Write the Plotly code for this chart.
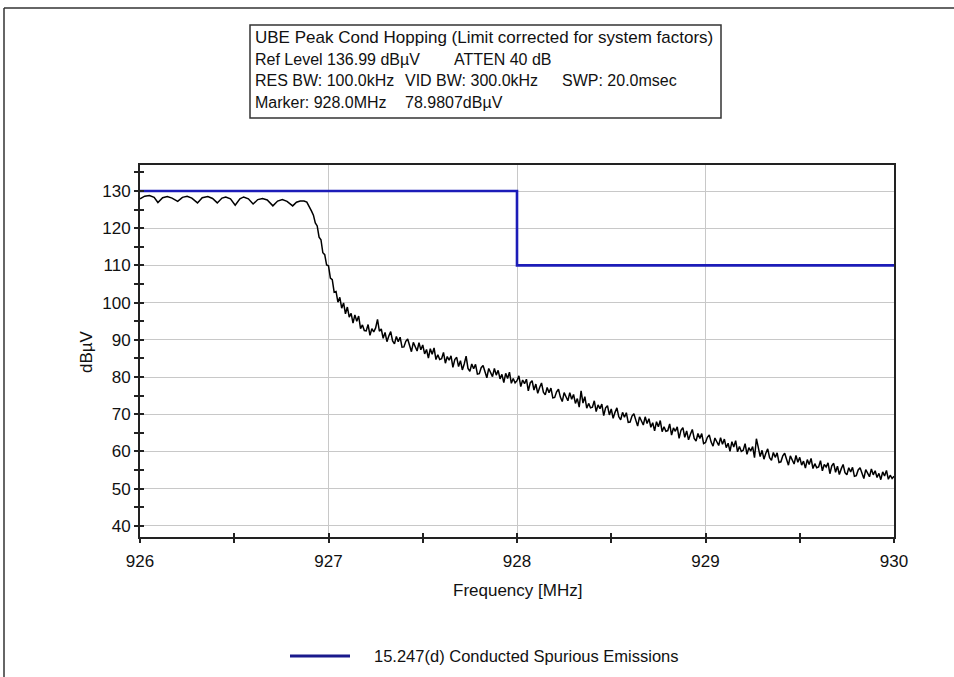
import numpy as np
import plotly.graph_objects as go

# ---------------- data ----------------
# limit line (15.247(d) conducted spurious emissions)
limit_freq = [926.0, 928.0, 928.0, 930.0]
limit_level = [130.0, 130.0, 110.0, 110.0]

# in-band (hopping) region: scalloped ripple, read point by point
ripple_freq = [926.000, 926.025, 926.050, 926.075, 926.095, 926.120, 926.145, 926.170,
               926.200, 926.225, 926.250, 926.275, 926.305, 926.330, 926.360, 926.385,
               926.410, 926.435, 926.455, 926.480, 926.505, 926.530, 926.550, 926.575,
               926.600, 926.625, 926.650, 926.675, 926.705, 926.730, 926.755, 926.780,
               926.810, 926.830, 926.850, 926.870, 926.885]
ripple_level = [127.9, 128.6, 128.8, 128.3, 126.9, 128.2, 128.5, 128.1,
                127.2, 128.3, 128.6, 128.1, 126.8, 128.2, 128.5, 128.0,
                126.8, 128.1, 128.4, 127.9, 126.2, 127.9, 128.4, 127.9,
                126.5, 127.7, 128.0, 127.6, 126.0, 127.3, 127.7, 127.2,
                126.0, 127.0, 127.3, 127.3, 127.0]

# out-of-band sweep: 926.90 .. 930.00 MHz, 0.01 MHz per point
sweep_start = 926.90
sweep_step = 0.01
sweep_level = [
    125.7, 124.6, 123.5, 121.4, 120.6, 117.6, 116.9, 113.4, 112.9, 110.1,
    109.9, 106.6, 106.2, 102.8, 103.0, 100.1, 101.4, 98.5, 99.9, 97.0,
    98.8, 96.1, 97.1, 94.5, 96.7, 95.0, 96.4, 93.0, 94.0, 92.5,
    92.4, 94.1, 91.2, 93.0, 92.1, 93.2, 95.5, 92.3, 92.9, 90.4,
    92.0, 89.5, 91.0, 92.2, 89.7, 88.9, 90.9, 89.5, 90.7, 88.0,
    88.1, 89.6, 90.2, 88.1, 86.8, 89.3, 88.2, 87.0, 89.2, 87.3,
    88.6, 86.2, 87.4, 85.1, 87.6, 86.1, 87.8, 84.7, 86.0, 84.7,
    84.9, 86.6, 83.7, 85.5, 84.5, 85.7, 82.6, 84.7, 85.3, 82.8,
    84.4, 81.9, 83.5, 85.6, 82.3, 81.5, 83.5, 82.2, 83.4, 80.8,
    80.9, 82.5, 83.1, 81.1, 79.8, 82.3, 81.2, 80.1, 82.3, 80.5,
    81.8, 79.5, 80.7, 78.5, 81.0, 79.6, 81.3, 78.3, 79.6, 78.4,
    79.0, 80.3, 77.4, 79.2, 78.2, 79.4, 76.3, 78.4, 79.0, 76.5,
    78.1, 75.6, 77.2, 78.4, 75.9, 75.2, 77.2, 75.8, 77.0, 74.4,
    74.5, 76.0, 76.7, 74.6, 73.4, 75.8, 74.7, 73.6, 75.8, 74.0,
    75.3, 72.9, 74.2, 71.9, 76.3, 73.0, 74.7, 71.6, 72.9, 71.7,
    71.9, 73.6, 70.7, 72.5, 71.5, 72.7, 69.6, 71.7, 72.3, 69.8,
    71.4, 68.9, 70.5, 71.7, 69.3, 68.5, 70.5, 69.2, 70.4, 67.8,
    67.9, 69.5, 70.1, 68.1, 66.8, 69.3, 68.2, 67.1, 69.3, 67.5,
    68.8, 66.5, 67.7, 65.5, 68.0, 66.6, 68.3, 65.3, 66.6, 65.4,
    65.6, 67.4, 64.4, 66.3, 65.4, 66.6, 63.5, 65.7, 66.4, 63.8,
    65.5, 63.1, 64.6, 65.9, 63.5, 62.8, 64.8, 63.5, 64.8, 62.1,
    62.4, 63.8, 64.4, 62.5, 61.4, 63.6, 62.6, 61.6, 63.7, 61.9,
    63.3, 61.0, 62.2, 60.0, 62.6, 61.2, 62.9, 59.9, 61.3, 60.0,
    60.3, 62.1, 59.2, 61.0, 60.1, 61.3, 58.3, 63.4, 61.1, 58.6,
    60.3, 57.9, 59.5, 60.7, 58.3, 57.6, 59.7, 58.4, 59.6, 57.0,
    57.2, 58.8, 59.5, 57.5, 56.3, 58.8, 57.7, 56.6, 58.9, 57.1,
    58.4, 56.3, 57.4, 55.5, 57.8, 56.5, 58.1, 55.4, 56.7, 55.6,
    55.8, 57.5, 54.8, 56.5, 55.8, 56.9, 54.0, 56.1, 56.8, 54.4,
    56.0, 53.8, 55.3, 56.5, 54.3, 53.7, 55.6, 54.5, 55.7, 53.3,
    53.5, 55.0, 55.6, 53.8, 52.7, 55.1, 54.2, 53.2, 55.3, 53.7,
    54.8, 53.0, 54.1, 52.4, 54.5, 53.4, 54.9, 52.5, 53.6, 52.7,
    53.3,
]

header_lines = [
    [("UBE Peak Cond Hopping (Limit corrected for system factors)", 253, 17)],
    [("Ref Level 136.99 dBµV", 253, 16), ("ATTEN 40 dB", 452, 16)],
    [("RES BW: 100.0kHz", 253, 16), ("VID BW: 300.0kHz", 403, 16), ("SWP: 20.0msec", 560, 16)],
    [("Marker: 928.0MHz", 253, 16), ("78.9807dBµV", 403, 16)],
]
legend_label = "15.247(d) Conducted Spurious Emissions"
x_title = "Frequency [MHz]"
y_title = "dBµV"

# ---------------- figure ----------------
W, H = 954, 677
L, R, T, B = 140, 894, 165, 537   # plot area in pixels


def px_x(px):
    return (px - L) / (R - L)


def px_y(py):
    return (B - py) / (B - T)


sweep_freq = np.round(sweep_start + sweep_step * np.arange(len(sweep_level)), 3)
trace_freq = list(ripple_freq) + list(sweep_freq)
trace_level = list(ripple_level) + list(sweep_level)

FONT = "Liberation Sans, Arial, sans-serif"
AX = "#222222"
GRID = "#c8c8c8"

fig = go.Figure()
fig.add_trace(go.Scatter(x=trace_freq, y=trace_level, mode="lines",
                         line=dict(color="#000000", width=1.5),
                         showlegend=False, hoverinfo="skip"))
fig.add_trace(go.Scatter(x=limit_freq, y=limit_level, mode="lines",
                         line=dict(color="#1c1cb8", width=2.6),
                         name=legend_label, showlegend=False))
# carrier trace for inner tick marks
fig.add_trace(go.Scatter(x=[926.0], y=[40.0], xaxis="x2", yaxis="y2", mode="markers",
                         marker=dict(opacity=0), showlegend=False, hoverinfo="skip"))

yr = [36.99, 136.99]
xr = [926, 930]

fig.update_layout(
    width=W, height=H,
    margin=dict(l=L, r=W - R, t=T, b=H - B),
    paper_bgcolor="white", plot_bgcolor="white",
    font=dict(family=FONT, size=17, color="#111111"),
    showlegend=False,
    xaxis=dict(range=xr, dtick=1, tick0=926, showgrid=True, gridcolor=GRID, gridwidth=1,
               zeroline=False, showline=True, linecolor=AX, linewidth=2, mirror=True,
               ticks="outside", ticklen=4, tickwidth=1.5, tickcolor=AX,
               ticklabelstandoff=4,
               minor=dict(dtick=0.5, ticks="outside", ticklen=4, tickwidth=1.5,
                          tickcolor=AX, showgrid=False),
               tickfont=dict(size=17)),
    yaxis=dict(range=yr, dtick=10, tick0=0, showgrid=True, gridcolor=GRID, gridwidth=1,
               zeroline=False, showline=True, linecolor=AX, linewidth=2, mirror=True,
               ticks="outside", ticklen=4, tickwidth=1.5, tickcolor=AX,
               minor=dict(dtick=5, ticks="outside", ticklen=4, tickwidth=1.5,
                          tickcolor=AX, showgrid=False),
               tickfont=dict(size=17)),
    xaxis2=dict(range=xr, overlaying="x", anchor="y", side="bottom", dtick=0.5, tick0=926,
                ticks="inside", ticklen=4, tickwidth=1.5, tickcolor=AX,
                showticklabels=False, showgrid=False, zeroline=False, showline=False),
    yaxis2=dict(range=yr, overlaying="y", anchor="x", side="left", dtick=5, tick0=0,
                ticks="inside", ticklen=4, tickwidth=1.5, tickcolor=AX,
                showticklabels=False, showgrid=False, zeroline=False, showline=False),
)

shapes = []
# outer frame (top + left)
shapes.append(dict(type="line", xref="paper", yref="paper",
                   x0=px_x(4), x1=px_x(960), y0=px_y(8), y1=px_y(8),
                   line=dict(color="#333333", width=1.5)))
shapes.append(dict(type="line", xref="paper", yref="paper",
                   x0=px_x(4), x1=px_x(4), y0=px_y(8), y1=px_y(690),
                   line=dict(color="#333333", width=1.5)))
# header box
shapes.append(dict(type="rect", xref="paper", yref="paper",
                   x0=px_x(250), x1=px_x(721), y0=px_y(25), y1=px_y(118),
                   line=dict(color="#333333", width=1.5), fillcolor="white"))
# legend line
shapes.append(dict(type="line", xref="paper", yref="paper",
                   x0=px_x(290), x1=px_x(350), y0=px_y(656), y1=px_y(656),
                   line=dict(color="#1a1a8c", width=3)))
fig.update_layout(shapes=shapes)

annotations = []
line_y = [37, 59.5, 81, 103]
for row, py in zip(header_lines, line_y):
    for txt, px, fs in row:
        annotations.append(dict(text=txt, x=px_x(px), y=px_y(py), xref="paper", yref="paper",
                                xanchor="left", yanchor="middle", showarrow=False,
                                font=dict(size=fs, color="#111111")))
annotations.append(dict(text=legend_label, x=px_x(372), y=px_y(656), xref="paper", yref="paper",
                        xanchor="left", yanchor="middle", showarrow=False,
                        font=dict(size=16.5, color="#111111")))
annotations.append(dict(text=x_title, x=px_x(517), y=px_y(590), xref="paper", yref="paper",
                        xanchor="center", yanchor="middle", showarrow=False,
                        font=dict(size=17, color="#111111")))
annotations.append(dict(text=y_title, x=px_x(86), y=px_y(352), xref="paper", yref="paper",
                        xanchor="center", yanchor="middle", showarrow=False, textangle=-90,
                        font=dict(size=17, color="#111111")))
fig.update_layout(annotations=annotations)

fig.write_html("out.html")
